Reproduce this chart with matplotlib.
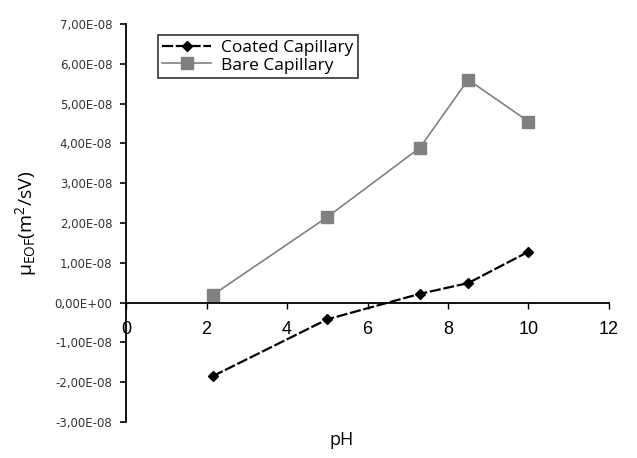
import matplotlib
matplotlib.use("Agg")
import matplotlib.pyplot as plt
from matplotlib.ticker import FuncFormatter, MultipleLocator

# Datos
ph = [2.15, 5.0, 7.3, 8.5, 10.0]
coated = [-1.85e-8, -0.42e-8, 0.22e-8, 0.49e-8, 1.28e-8]
bare = [0.19e-8, 2.15e-8, 3.89e-8, 5.6e-8, 4.55e-8]

fig = plt.figure(figsize=(6.37, 4.58), dpi=100)
ax = fig.add_axes([0.198, 0.0786, 0.758, 0.869])

ax.plot(ph, coated, color="black", lw=1.6, marker="D", markersize=5.5,
        dashes=(5, 1.2), label="Coated Capillary")
ax.plot(ph, bare, color="#808080", lw=1.2, marker="s", markersize=8,
        label="Bare Capillary")

ax.set_xlim(0, 12)
ax.set_ylim(-3e-8, 7e-8)
ax.xaxis.set_major_locator(MultipleLocator(2))
ax.yaxis.set_major_locator(MultipleLocator(1e-8))


def fmt_y(v, pos):
    # formato tipo Excel: 7,00E-08
    if abs(v) < 1e-20:
        return "0,00E+00"
    mant, exp = ("%.2E" % v).split("E")
    return "%sE-%02d" % (mant.replace(".", ","), abs(int(exp)))


ax.yaxis.set_major_formatter(FuncFormatter(fmt_y))

ax.spines["top"].set_visible(False)
ax.spines["right"].set_visible(False)
ax.spines["bottom"].set_position(("data", 0))
ax.spines["left"].set_linewidth(1.3)
ax.spines["bottom"].set_linewidth(1.3)
ax.tick_params(axis="y", direction="out", length=4, width=1.2,
               labelsize=8.5, labelcolor="#333333", pad=6)
ax.tick_params(axis="x", direction="out", length=4, width=1.0,
               labelsize=13, pad=9)
for t in ax.get_yticklabels():
    t.set_fontfamily("DejaVu Sans")
for t in ax.get_xticklabels():
    t.set_fontfamily("Liberation Sans")

ax.set_ylabel(r"$\mathregular{\mu_{EOF}(m^2/sV)}$", fontsize=14,
              family="Open Sans", labelpad=11)
fig.text(0.537, 0.04, "pH", fontsize=13, family="Open Sans",
         ha="center", va="center")

leg = ax.legend(loc="upper left", bbox_to_anchor=(0.066, 0.972),
                borderaxespad=0,
                prop={"family": "Open Sans", "size": 12.5},
                frameon=True, fancybox=False, edgecolor="black",
                borderpad=0.25, handlelength=2.8, handletextpad=0.6,
                labelspacing=0.1)
leg.get_frame().set_linewidth(1.2)

fig.savefig("out.png", dpi=100)
